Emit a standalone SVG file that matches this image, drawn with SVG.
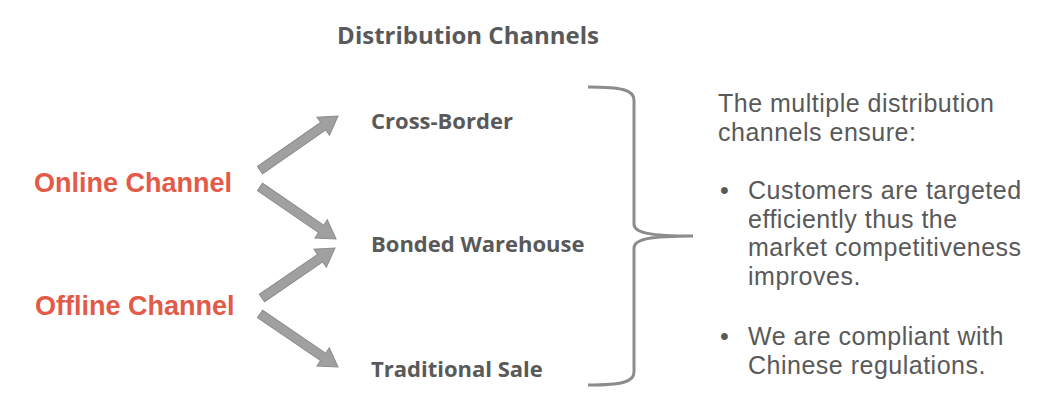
<svg xmlns="http://www.w3.org/2000/svg" width="1045" height="404" viewBox="0 0 1045 404">
<defs>
<style>
.title{font-family:"Open Sans","Noto Sans",sans-serif;font-weight:bold;font-size:24px;fill:#595959}
.item{font-family:"Open Sans","Noto Sans",sans-serif;font-weight:bold;font-size:22px;fill:#595959}
.src{font-family:"Liberation Sans",Arial,sans-serif;font-weight:bold;font-size:27px;fill:#E35A48}
.body{font-family:"Liberation Sans",Arial,sans-serif;font-size:25px;letter-spacing:0.5px;fill:#595959}
.arrow{fill:#A0A0A0;stroke:#8C8C8C;stroke-width:1}
.brace{fill:none;stroke:#8C8C8C;stroke-width:3}
</style>
</defs>
<rect width="1045" height="404" fill="#FFFFFF"/>
<g id="title"><text class="title" x="468" y="44" text-anchor="middle">Distribution Channels</text></g>
<g id="online"><text class="src" x="34" y="192">Online Channel</text></g>
<g id="offline"><text class="src" x="35" y="315">Offline Channel</text></g>
<g id="cross-border"><text class="item" x="371" y="129">Cross-Border</text></g>
<g id="bonded"><text class="item" x="371" y="252">Bonded Warehouse</text></g>
<g id="traditional"><text class="item" x="371" y="377">Traditional Sale</text></g>
<g id="connectors">
<polygon class="arrow" transform="translate(260,170) rotate(-34.7)" points="0,-4.5 76.9,-4.5 76.9,-11 94.9,0 76.9,11 76.9,4.5 0,4.5"/>
<polygon class="arrow" transform="translate(260,187) rotate(34.4)" points="0,-4.5 74.1,-4.5 74.1,-11 92.1,0 74.1,11 74.1,4.5 0,4.5"/>
<polygon class="arrow" transform="translate(262,298) rotate(-34.4)" points="0,-4.5 70.5,-4.5 70.5,-11 88.5,0 70.5,11 70.5,4.5 0,4.5"/>
<polygon class="arrow" transform="translate(260,314) rotate(34.2)" points="0,-4.5 76.3,-4.5 76.3,-11 94.3,0 76.3,11 76.3,4.5 0,4.5"/>
<path class="brace" d="M588,87 C622,87 634,90 634,100 L634,224 C634,233 650,236 693,236 C650,236 634,239 634,248 L634,372 C634,382 622,385 588,385"/>
</g>
<g id="summary">
<text class="body"><tspan x="718" y="112">The multiple distribution</tspan><tspan x="718" y="140.5">channels ensure:</tspan></text>
<text class="body" x="720" y="199">•</text>
<text class="body"><tspan x="748" y="199">Customers are targeted</tspan><tspan x="748" y="227.5">efficiently thus the</tspan><tspan x="748" y="256">market competitiveness</tspan><tspan x="748" y="284.5">improves.</tspan></text>
<text class="body" x="720" y="345">•</text>
<text class="body"><tspan x="748" y="345">We are compliant with</tspan><tspan x="748" y="373.5">Chinese regulations.</tspan></text>
</g>
</svg>
